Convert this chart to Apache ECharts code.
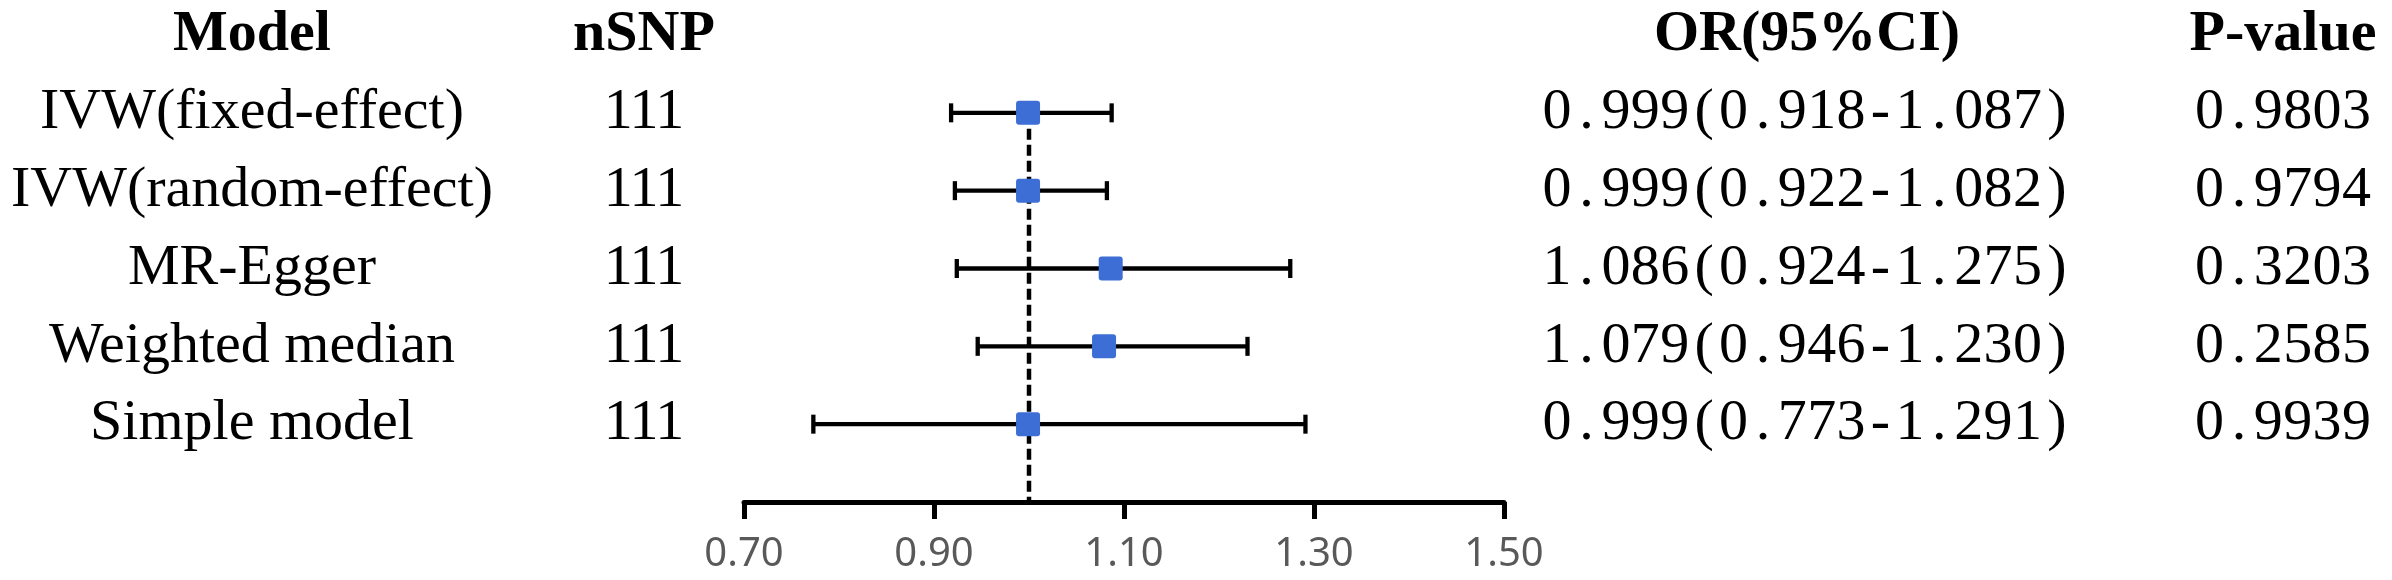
<!DOCTYPE html>
<html><head><meta charset="utf-8">
<script src="https://cdn.jsdelivr.net/npm/echarts@6/dist/echarts.min.js"></script>
<style>html,body{margin:0;padding:0;background:#fff}#c{width:2392px;height:580px}</style>
</head><body><div id="c"></div>
<script>
// ---- data ----
const headers = ['Model', 'nSNP', 'OR(95%CI)', 'P-value'];
const models = ['IVW(fixed-effect)', 'IVW(random-effect)', 'MR-Egger', 'Weighted median', 'Simple model'];
const nsnp = [111, 111, 111, 111, 111];
const orVals = [0.999, 0.999, 1.086, 1.079, 0.999];
const lower = [0.918, 0.922, 0.924, 0.946, 0.773];
const upper = [1.087, 1.082, 1.275, 1.230, 1.291];
const pVals = ['0.9803', '0.9794', '0.3203', '0.2585', '0.9939'];
const xTicks = [0.70, 0.90, 1.10, 1.30, 1.50];
const refLine = 1;

// ---- derived ----
const orText = orVals.map((v, i) => v.toFixed(3) + '(' + lower[i].toFixed(3) + '-' + upper[i].toFixed(3) + ')');
const rowCount = models.length;
const yCats = Array.from({length: rowCount + 2}, (_, i) => String(i)); // 0 = header row, last = axis row
const ciData = models.map((m, i) => [i + 1, orVals[i], lower[i], upper[i]]);

const SERIF = '"Liberation Serif", "Times New Roman", serif';
const BLUE = '#3C6ED6';

// fixed-advance (half-width style) rendering of a string, one rich fragment per character
function fixedWidth(s, style) {
  return s.split('').map(ch => {
    let st = style;
    if (style === 'm') {
      if (ch === '.' || ch === ')') st = 'ml';
      else if (ch === '(') st = 'mr';
    }
    return '{' + st + '|' + ch + '}';
  }).join('');
}

function textAxis(pos, margin, header, col, cellStyle) {
  const base = {fontFamily: SERIF, fontSize: 58, color: '#000'};
  return {
    type: 'category', data: yCats, inverse: true, boundaryGap: false, position: pos,
    axisLine: {show: false}, axisTick: {show: false}, splitLine: {show: false},
    axisLabel: {
      interval: 0, margin: margin, align: 'center', verticalAlign: 'middle',
      formatter: (v, i) => {
        if (i === 0) return '{h|' + header + '}';
        if (i > col.length) return '';
        const s = String(col[i - 1]);
        return cellStyle ? fixedWidth(s, cellStyle) : '{r|' + s + '}';
      },
      rich: {
        h: Object.assign({}, base, {fontWeight: 'bold'}),
        r: Object.assign({}, base),
        m: Object.assign({}, base, {width: 29.4, align: 'center'}),
        ml: Object.assign({}, base, {width: 29.4, align: 'left'}),
        mr: Object.assign({}, base, {width: 29.4, align: 'right'}),
        n: Object.assign({}, base, {width: 25.7, align: 'center'})
      }
    }
  };
}

const chart = echarts.init(document.getElementById('c'), null, {renderer: 'canvas'});
chart.setOption({
  animation: false,
  backgroundColor: '#fff',
  grid: {left: 744, right: 888, top: 35, bottom: 78, containLabel: false, outerBoundsMode: 'none'},
  xAxis: {
    type: 'value', min: 0.7, max: 1.5, position: 'bottom',
    axisLine: {show: true, lineStyle: {color: '#000', width: 5}},
    axisTick: {show: true, length: 17, customValues: xTicks, lineStyle: {color: '#000', width: 5}},
    axisLabel: {customValues: xTicks, formatter: v => v.toFixed(2), fontFamily: '"Noto Sans", sans-serif',
      fontSize: 40, color: '#595959', margin: 33},
    splitLine: {show: false}
  },
  yAxis: [
    textAxis('left', 492, headers[0], models, null),
    textAxis('left', 100, headers[1], nsnp, 'n'),
    textAxis('right', 303, headers[2], orText, 'm'),
    textAxis('right', 779, headers[3], pVals, 'm')
  ],
  series: [
    {
      type: 'line', yAxisIndex: 0, symbol: 'none', silent: true, z: 1,
      data: [[refLine, 1], [refLine, rowCount + 1]],
      lineStyle: {color: '#000', width: 4.5, type: [11, 5]}
    },
    {
      type: 'custom', yAxisIndex: 0, z: 5,
      encode: {x: [1, 2, 3], y: 0},
      data: ciData,
      renderItem: function (params, api) {
        const y = api.value(0);
        const c = api.coord([api.value(1), y]);
        const l = api.coord([api.value(2), y]);
        const h = api.coord([api.value(3), y]);
        const capH = 9.5, sq = 24;
        const ls = {stroke: '#000', lineWidth: 4.3};
        return {
          type: 'group',
          children: [
            {type: 'line', shape: {x1: l[0], y1: l[1], x2: h[0], y2: h[1]}, style: ls},
            {type: 'line', shape: {x1: l[0], y1: l[1] - capH, x2: l[0], y2: l[1] + capH}, style: ls},
            {type: 'line', shape: {x1: h[0], y1: h[1] - capH, x2: h[0], y2: h[1] + capH}, style: ls},
            {type: 'rect', shape: {x: c[0] - sq / 2, y: c[1] - sq / 2, width: sq, height: sq, r: 3},
              style: {fill: BLUE}}
          ]
        };
      }
    }
  ]
});
</script>
</body></html>
